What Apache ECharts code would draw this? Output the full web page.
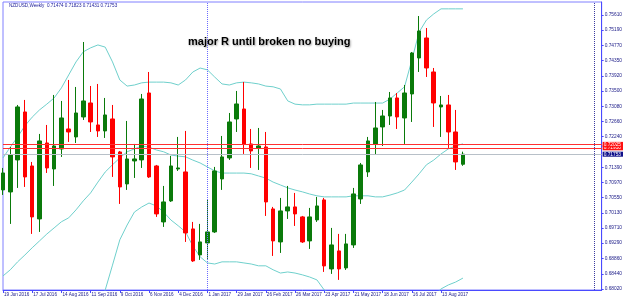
<!DOCTYPE html>
<html>
<head>
<meta charset="utf-8">
<script src="https://cdn.jsdelivr.net/npm/echarts@6/dist/echarts.min.js"></script>
<style>
html, body { margin: 0; padding: 0; background: #fff; }
#chart { width: 625px; height: 300px; }
</style>
</head>
<body>
<div id="chart"></div>
<script>
// x轴日期标签 (每4周一个)
var tickLabels = ['19 Jun 2016', '17 Jul 2016', '14 Aug 2016', '11 Sep 2016', '9 Oct 2016', '6 Nov 2016',
	'4 Dec 2016', '1 Jan 2017', '29 Jan 2017', '26 Feb 2017', '26 Mar 2017', '23 Apr 2017',
	'21 May 2017', '18 Jun 2017', '16 Jul 2017', '13 Aug 2017'];

var barCount = 64;
var shiftBars = 19; // 右侧空白

// y轴价格刻度
var priceTicks = [0.75610, 0.75190, 0.74770, 0.74350, 0.73920, 0.73500, 0.73080, 0.72660, 0.72240,
	0.71390, 0.70970, 0.70550, 0.70130, 0.69710, 0.69290, 0.68860, 0.68440, 0.68020];

// [open, close, low, high]
var ohlc = [
	[0.70763, 0.71233, 0.70624, 0.71372], [0.70707, 0.71732, 0.69821, 0.71954],
	[0.71594, 0.73062, 0.70818, 0.73117], [0.72923, 0.71123, 0.70846, 0.73256],
	[0.71427, 0.70015, 0.69544, 0.71538], [0.69959, 0.72120, 0.69599, 0.72314],
	[0.72064, 0.71372, 0.71233, 0.72563], [0.71344, 0.71981, 0.70873, 0.73394],
	[0.71898, 0.72757, 0.71677, 0.73228], [0.72452, 0.72369, 0.72092, 0.73810],
	[0.72231, 0.72895, 0.72064, 0.73616], [0.72785, 0.73228, 0.72702, 0.74862],
	[0.73172, 0.72646, 0.72369, 0.73643], [0.72563, 0.72397, 0.72231, 0.73699],
	[0.72397, 0.72840, 0.72203, 0.73311], [0.72729, 0.71677, 0.71123, 0.73117],
	[0.71815, 0.70846, 0.70375, 0.71843], [0.70929, 0.71621, 0.70763, 0.72674],
	[0.71566, 0.71621, 0.71095, 0.72037], [0.71594, 0.73283, 0.71372, 0.73422],
	[0.73449, 0.71123, 0.71095, 0.74031], [0.71427, 0.70098, 0.70015, 0.71455],
	[0.69876, 0.70430, 0.69738, 0.70873], [0.70458, 0.71427, 0.70430, 0.71704],
	[0.71344, 0.71372, 0.71289, 0.72231], [0.71261, 0.69571, 0.69322, 0.72397],
	[0.69682, 0.68796, 0.68768, 0.69876], [0.68962, 0.69322, 0.68824, 0.69821],
	[0.69294, 0.69599, 0.68851, 0.70486], [0.69599, 0.71289, 0.69571, 0.71400],
	[0.71067, 0.71677, 0.70763, 0.72258], [0.71649, 0.72646, 0.71594, 0.72895],
	[0.72729, 0.73145, 0.72369, 0.73505], [0.73006, 0.72037, 0.71760, 0.73754],
	[0.72037, 0.71843, 0.71372, 0.72452], [0.71926, 0.71981, 0.71317, 0.72480],
	[0.71954, 0.70430, 0.70042, 0.72369], [0.70236, 0.69350, 0.68934, 0.70292],
	[0.69322, 0.70181, 0.69017, 0.70541], [0.70181, 0.70292, 0.69959, 0.70873],
	[0.70292, 0.70098, 0.69765, 0.70679], [0.70015, 0.69322, 0.69294, 0.70042],
	[0.69350, 0.70015, 0.69128, 0.70264], [0.69932, 0.70319, 0.69876, 0.70569],
	[0.70486, 0.68657, 0.68491, 0.70541], [0.68574, 0.69239, 0.68436, 0.69710],
	[0.69073, 0.68574, 0.68270, 0.69544], [0.68602, 0.69267, 0.68547, 0.69544],
	[0.69239, 0.70652, 0.69156, 0.70818], [0.70513, 0.71455, 0.70375, 0.71510],
	[0.71261, 0.72120, 0.71123, 0.72231], [0.72037, 0.72480, 0.71732, 0.73200],
	[0.72508, 0.72812, 0.71981, 0.72979], [0.72812, 0.73311, 0.72563, 0.73477],
	[0.73311, 0.72785, 0.72452, 0.73449], [0.72757, 0.73449, 0.72037, 0.73671],
	[0.73422, 0.74557, 0.72646, 0.74585], [0.74419, 0.75167, 0.74031, 0.75582],
	[0.74973, 0.74142, 0.73893, 0.75250], [0.74031, 0.73172, 0.72508, 0.74142],
	[0.73062, 0.73117, 0.72231, 0.73366], [0.73117, 0.72369, 0.71926, 0.73394],
	[0.72369, 0.71538, 0.71317, 0.72979], [0.71474, 0.71753, 0.71431, 0.71823]
];

// 布林带
var bbUpper = [0.7165, 0.7195, 0.7223, 0.7254, 0.7278, 0.7298, 0.7314, 0.7331, 0.7359, 0.7395,
	0.7431, 0.7459, 0.7470, 0.7478, 0.7472, 0.7431, 0.7381, 0.7364, 0.7367, 0.7373,
	0.7375, 0.7375, 0.7375, 0.7373, 0.7367, 0.7381, 0.7403, 0.7414, 0.7409, 0.7389,
	0.7370, 0.7367, 0.7373, 0.7375, 0.7373, 0.7370, 0.7364, 0.7362, 0.7356, 0.7323,
	0.7314, 0.7312, 0.7312, 0.7314, 0.7314, 0.7314, 0.7314, 0.7314, 0.7317, 0.7317,
	0.7317, 0.7317, 0.7317, 0.7328, 0.7345, 0.7362, 0.7436, 0.7514, 0.7547, 0.7564,
	0.7578, 0.7578, 0.7578, 0.7578];
var bbMiddle = [0.6838, 0.6855, 0.6877, 0.6896, 0.6916, 0.6935, 0.6954, 0.6971, 0.6988, 0.6999,
	0.7021, 0.7046, 0.7068, 0.7098, 0.7126, 0.7146, 0.7165, 0.7182, 0.7190, 0.7198,
	0.7195, 0.7187, 0.7182, 0.7173, 0.7170, 0.7168, 0.7159, 0.7151, 0.7140, 0.7129,
	0.7123, 0.7123, 0.7123, 0.7123, 0.7121, 0.7115, 0.7109, 0.7098, 0.7090, 0.7082,
	0.7076, 0.7071, 0.7065, 0.7060, 0.7057, 0.7057, 0.7057, 0.7057, 0.7060, 0.7060,
	0.7060, 0.7057, 0.7057, 0.7062, 0.7068, 0.7076, 0.7098, 0.7121, 0.7146, 0.7159,
	0.7176, 0.7190, 0.7198, 0.7204];
var bbLower = [0.6511, 0.6514, 0.6531, 0.6539, 0.6553, 0.6572, 0.6594, 0.6611, 0.6616, 0.6603,
	0.6611, 0.6633, 0.6666, 0.6719, 0.6799, 0.6868, 0.6938, 0.6979, 0.7015, 0.7029,
	0.7040, 0.7032, 0.7015, 0.6993, 0.6977, 0.6960, 0.6921, 0.6891, 0.6874, 0.6871,
	0.6877, 0.6877, 0.6877, 0.6874, 0.6871, 0.6866, 0.6866, 0.6855, 0.6846, 0.6849,
	0.6846, 0.6841, 0.6835, 0.6827, 0.6799, 0.6788, 0.6783, 0.6777, 0.6772, 0.6769,
	0.6766, 0.6766, 0.6763, 0.6763, 0.6766, 0.6769, 0.6766, 0.6752, 0.6755, 0.6783,
	0.6802, 0.6813, 0.6821, 0.6832];

// 水平线
var resistLines = [0.72025, 0.71930];
var bidPrice = 0.71753;
var separatorBar = 28; // 1 Jan 2017
var shiftLineBar = 81;

var categories = [];
for (var i = 0; i < barCount + shiftBars; i++) {
	categories.push(i % 4 === 0 && tickLabels[i / 4] ? tickLabels[i / 4] : '');
}

var labelFont = 'Liberation Sans';
var axisBlue = '#4a4aff';
var bandColor = '#6fd0cc';

function showTick(index, value) {
	return value !== '';
}

// 单条水平线 + 右侧价格框
function levelSeries(name, value, lineColor, boxColor, z) {
	return {
		name: name,
		type: 'line',
		data: [],
		z: z,
		markLine: {
			silent: true,
			precision: 5,
			symbol: ['none', 'none'],
			animation: false,
			lineStyle: { color: lineColor, width: 1, type: 'solid' },
			label: {
				show: true, position: 'end', distance: 1,
				formatter: function() { return value.toFixed(5); },
				backgroundColor: boxColor, color: '#fff', fontSize: 4.8, fontFamily: labelFont,
				padding: [0, 2, 0, 1]
			},
			data: [{ yAxis: value }]
		}
	};
}

function vLineSeries(name, bar, color) {
	return {
		name: name,
		type: 'line',
		data: [],
		markLine: {
			silent: true,
			symbol: ['none', 'none'],
			animation: false,
			lineStyle: { color: color, width: 1, type: 'dotted' },
			label: { show: false },
			data: [{ xAxis: bar }]
		}
	};
}

var option = {
	animation: false,
	backgroundColor: '#ffffff',
	title: [{
		text: 'NZDUSD,Weekly  0.71474 0.71823 0.71431 0.71753',
		left: 9,
		top: 3,
		padding: 0,
		textStyle: { fontSize: 4.6, fontWeight: 'normal', color: '#20209a', fontFamily: labelFont }
	}, {
		text: 'major R until broken no buying',
		left: 188,
		top: 36,
		padding: 0,
		textStyle: {
			fontSize: 11, fontWeight: 'bold', color: '#000', fontFamily: labelFont,
			textShadowColor: 'rgba(0,0,0,0.35)', textShadowBlur: 2, textShadowOffsetX: 1, textShadowOffsetY: 1
		}
	}],
	grid: {
		left: 3,
		right: 21,
		top: 2,
		bottom: 10,
		show: true,
		borderColor: '#8080ff',
		borderWidth: 1
	},
	xAxis: {
		type: 'category',
		boundaryGap: false,
		data: categories,
		axisLine: { lineStyle: { color: axisBlue } },
		axisTick: { interval: showTick, length: 3, lineStyle: { color: axisBlue } },
		axisLabel: {
			interval: showTick, align: 'left', margin: 2, padding: [0, 0, 0, 1],
			fontSize: 4.6, color: '#20208a', fontFamily: labelFont
		},
		splitLine: { show: false }
	},
	yAxis: {
		type: 'value',
		position: 'right',
		min: 0.67990,
		max: 0.75970,
		axisLine: { show: true, lineStyle: { color: axisBlue } },
		axisTick: { show: true, length: 2, customValues: priceTicks, lineStyle: { color: axisBlue } },
		axisLabel: {
			customValues: priceTicks, margin: 3, fontSize: 4.8, color: '#20208a', fontFamily: labelFont,
			formatter: function(v) { return v.toFixed(5); }
		},
		splitLine: { show: false }
	},
	series: [{
		name: 'upper',
		type: 'line',
		data: bbUpper,
		symbol: 'none',
		lineStyle: { color: bandColor, width: 1 },
		z: 1
	}, {
		name: 'middle',
		type: 'line',
		data: bbMiddle,
		symbol: 'none',
		lineStyle: { color: bandColor, width: 1 },
		z: 1
	}, {
		name: 'lower',
		type: 'line',
		data: bbLower,
		symbol: 'none',
		lineStyle: { color: bandColor, width: 1 },
		z: 1
	}, {
		name: 'NZDUSD',
		type: 'candlestick',
		data: ohlc,
		barWidth: 4,
		itemStyle: {
			color: '#0a7a0a',
			color0: '#ff0000',
			borderColor: '#0a7a0a',
			borderColor0: '#ff0000',
			borderColorDoji: '#0a7a0a',
			borderWidth: 1
		},
		z: 2
	},
		levelSeries('bid', bidPrice, '#b8c0c8', '#10108a', 3),
		levelSeries('R1', resistLines[1], '#ff3030', '#ff1010', 4),
		levelSeries('R2', resistLines[0], '#ff3030', '#ff1010', 5),
		vLineSeries('sep', separatorBar, '#6a6aff'),
		vLineSeries('shift', shiftLineBar, '#3a3aa0')
	]
};

var myChart = echarts.init(document.getElementById('chart'));
myChart.setOption(option);
</script>
</body>
</html>
